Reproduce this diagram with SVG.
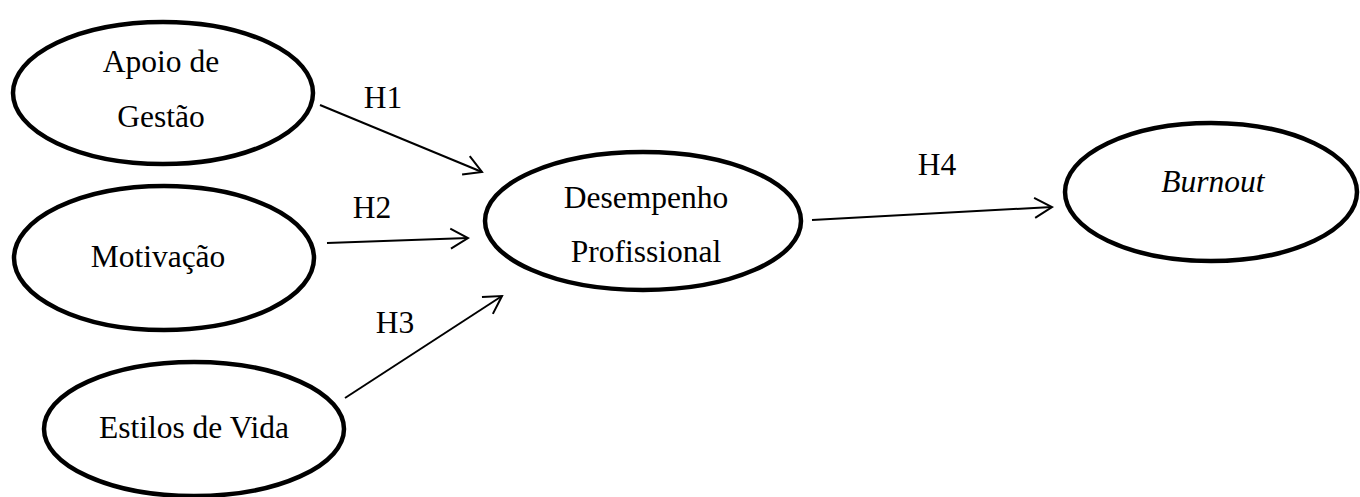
<svg xmlns="http://www.w3.org/2000/svg" width="1360" height="497" viewBox="0 0 1360 497">
<style>
.node{fill:#fff;stroke:#000;stroke-width:4.5}
.t{font-family:"Liberation Serif","Times New Roman",serif;font-size:31.5px;fill:#000;text-anchor:middle}
.edge{stroke:#000;stroke-width:2;fill:none}
</style>
<defs>
<marker id="arr" viewBox="-20 -12 22 24" markerWidth="22" markerHeight="24" refX="0" refY="0" orient="auto" markerUnits="userSpaceOnUse">
<path d="M-17.4,-10 L0,0 L-17.4,10" fill="none" stroke="#000" stroke-width="2"/>
</marker>
</defs>
<rect width="1360" height="497" fill="#fff"/>
<g id="connectors">
<line class="edge" x1="320" y1="105" x2="482" y2="172" marker-end="url(#arr)"/>
<line class="edge" x1="327" y1="243" x2="468" y2="238" marker-end="url(#arr)"/>
<line class="edge" x1="345" y1="398" x2="502" y2="296" marker-end="url(#arr)"/>
<line class="edge" x1="812" y1="220" x2="1052" y2="207" marker-end="url(#arr)"/>
<text class="t" x="383" y="108">H1</text>
<text class="t" x="372" y="218">H2</text>
<text class="t" x="395" y="333">H3</text>
<text class="t" x="937" y="175">H4</text>
</g>
<g id="apoio">
<ellipse class="node" cx="163" cy="93" rx="150" ry="71"/>
<text class="t" x="161" y="72">Apoio de</text>
<text class="t" x="161" y="127">Gestão</text>
</g>
<g id="motivacao">
<ellipse class="node" cx="164" cy="258" rx="150" ry="72"/>
<text class="t" x="158" y="267">Motivação</text>
</g>
<g id="estilos">
<ellipse class="node" cx="194" cy="429" rx="150" ry="67"/>
<text class="t" x="194" y="438">Estilos de Vida</text>
</g>
<g id="desempenho">
<ellipse class="node" cx="643" cy="221" rx="158" ry="69"/>
<text class="t" x="646" y="208">Desempenho</text>
<text class="t" x="646" y="262">Profissional</text>
</g>
<g id="burnout">
<ellipse class="node" cx="1211" cy="192" rx="146" ry="69"/>
<text class="t" x="1213" y="192" font-style="italic">Burnout</text>
</g>
</svg>
